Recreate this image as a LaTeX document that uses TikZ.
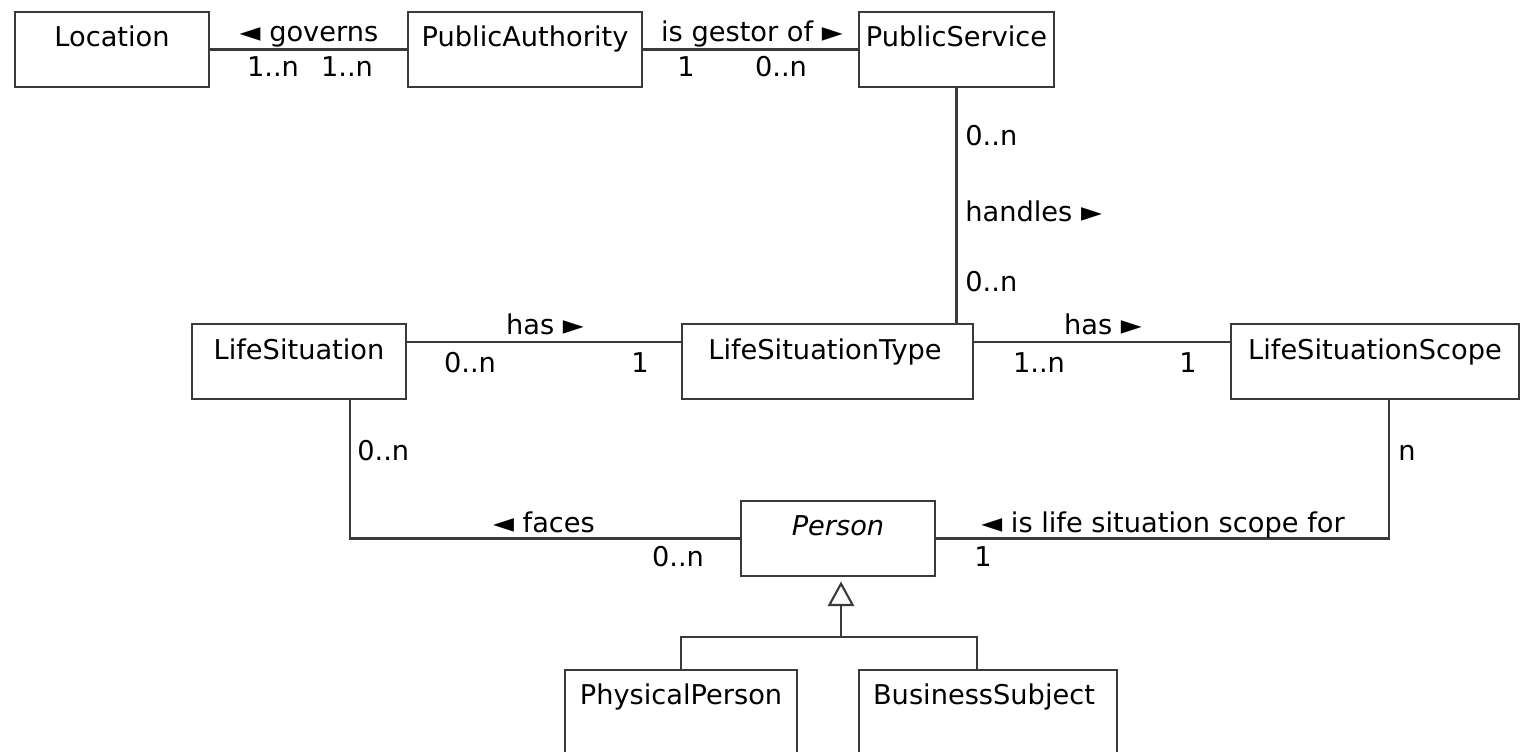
\documentclass[tikz,border=0pt]{standalone}
\usepackage{fontspec}
\setmainfont{DejaVu Sans}
\usetikzlibrary{arrows.meta,calc}
\definecolor{ln}{HTML}{3A3A3A}
\begin{document}
\begin{tikzpicture}[x=0.02cm,y=-0.02cm,
  box/.style={draw=ln,line width=1.2pt,minimum height=75*0.02cm,inner sep=0pt},
  nm/.style={anchor=base,inner sep=0pt,font=\fontsize{15.5}{18}\selectfont},
  lb/.style={anchor=base,inner sep=0pt,font=\fontsize{15.5}{18}\selectfont},
  lbw/.style={anchor=base west,inner sep=0pt,font=\fontsize{15.5}{18}\selectfont},
  con/.style={draw=ln,line width=1.2pt}]
\useasboundingbox (0,0) rectangle (1521,751);
\clip (0,0) rectangle (1521,751);
% boxes
\node[box,minimum width=194*0.02cm] (loc) at (112,49.5) {};
\node[box,minimum width=234*0.02cm] (pa) at (525,49.5) {};
\node[box,minimum width=195*0.02cm] (ps) at (956.5,49.5) {};
\node[box,minimum width=214*0.02cm] (ls) at (299,361.5) {};
\node[box,minimum width=291*0.02cm] (lst) at (827.5,361.5) {};
\node[box,minimum width=288*0.02cm] (lss) at (1375,361.5) {};
\node[box,minimum width=194*0.02cm] (person) at (838,538.5) {};
\node[box,minimum width=232*0.02cm,minimum height=100*0.02cm] (pp) at (681,720) {};
\node[box,minimum width=258*0.02cm,minimum height=100*0.02cm] (bs) at (988,720) {};
% names
\node[nm] (locT) at (112,46) {Location};
\node[nm] (paT) at (525,46) {PublicAuthority};
\node[nm] (psT) at (956.5,46) {PublicService};
\node[nm] (lsT) at (299,359) {LifeSituation};
\node[nm] (lstT) at (825,359) {LifeSituationType};
\node[nm] (lssT) at (1375,359) {LifeSituationScope};
\node[nm] (personT) at (838,535) {\itshape Person};
\node[nm] (ppT) at (681,704) {PhysicalPerson};
\node[nm] (bsT) at (984,704) {BusinessSubject};
% connectors
\draw[con] (loc.east) -- (pa.west);
\draw[con] (pa.east) -- (ps.west);
\draw[con] (ps.south) -- (ps.south |- lst.north);
\draw[con] (ls.north east) ++(0,19) coordinate (a1) -- (a1 -| lst.west);
\draw[con] (lst.north east) ++(0,19) coordinate (a2) -- (a2 -| lss.west);
\draw[con] (ls.south) ++(51,0) coordinate (a3) -- (a3 |- person.west) -- (person.west);
\draw[con] (lss.south) ++(14,0) coordinate (a4) -- (a4 |- person.east) -- (person.east);
% generalization
\coordinate (g) at (841,637);
\coordinate (bsj) at (977,670);
\draw[con] (pp.north) |- (bsj |- g) -- (bsj);
\draw[con,-{Triangle[open,length=14pt,width=15pt]},shorten >=2.5pt] (g) -- (g |- person.south);
% labels
\node[lb] (l1) at (309,41) {◄ governs};
\node[lb] (l2) at (273,76) {1..n};
\node[lb] (l3) at (347,76) {1..n};
\node[lb] (l4) at (752,41) {is gestor of ►};
\node[lb] (l5) at (686,76) {1};
\node[lb] (l6) at (781,76) {0..n};
\node[lbw] (l7) at (965,145) {0..n};
\node[lbw] (l8) at (965,221) {handles ►};
\node[lbw] (l9) at (965,291) {0..n};
\node[lb] (l10) at (545,334) {has ►};
\node[lb] (l11) at (470,372) {0..n};
\node[lb] (l12) at (640,372) {1};
\node[lb] (l13) at (1103,334) {has ►};
\node[lb] (l14) at (1039,372) {1..n};
\node[lb] (l15) at (1188,372) {1};
\node[lbw] (l16) at (357,460) {0..n};
\node[lb] (l17) at (544,532) {◄ faces};
\node[lb] (l18) at (678,566) {0..n};
\node[lb] (l19) at (1163,532) {◄ is life situation scope for};
\node[lb] (l20) at (983,566) {1};
\node[lbw] (l21) at (1398,460) {n};
\end{tikzpicture}
\end{document}
